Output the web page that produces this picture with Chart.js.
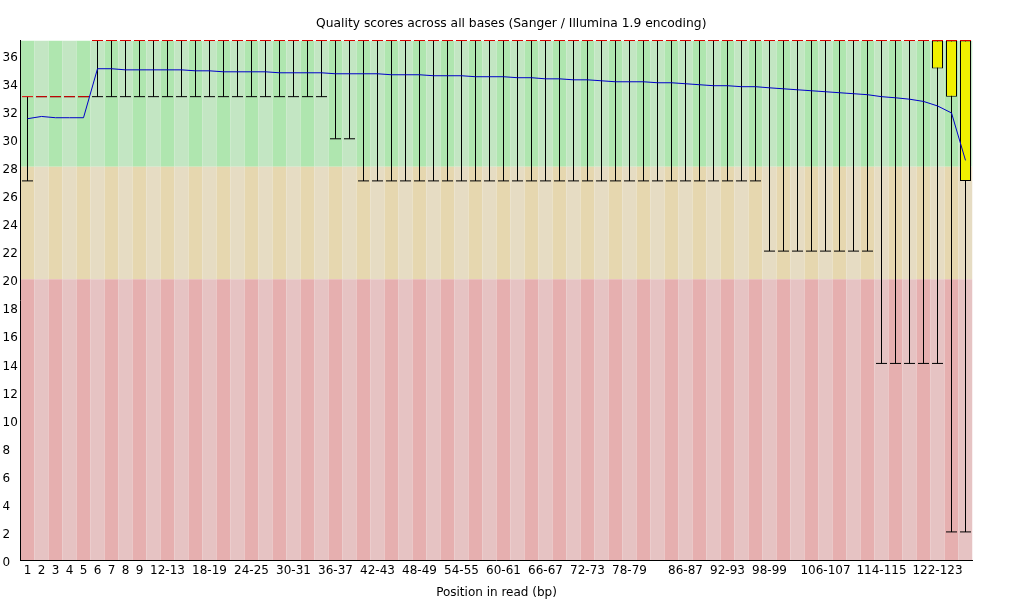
<!DOCTYPE html>
<html>
<head>
<meta charset="utf-8">
<style>
html,body{margin:0;padding:0;background:#fff;}
#wrap{width:1020px;height:600px;}
</style>
<script src="https://cdn.jsdelivr.net/npm/chart.js@4.4.1/dist/chart.umd.min.js"></script>
</head>
<body>
<div id="wrap"><canvas id="c" width="1020" height="600"></canvas></div>
<script>
// ---- data ----
const categories = ["1","2","3","4","5","6","7","8","9",
  "10-11","12-13","14-15","16-17","18-19","20-21","22-23","24-25","26-27","28-29",
  "30-31","32-33","34-35","36-37","38-39","40-41","42-43","44-45","46-47","48-49",
  "50-51","52-53","54-55","56-57","58-59","60-61","62-63","64-65","66-67","68-69",
  "70-71","72-73","74-75","76-77","78-79","80-81","82-83","84-85","86-87","88-89",
  "90-91","92-93","94-95","96-97","98-99","100-101","102-103","104-105","106-107","108-109",
  "110-111","112-113","114-115","116-117","118-119","120-121","122-123","124-125","126-127"];

const shownTickLabels = ["1","2","3","4","5","6","7","8","9","12-13","18-19","24-25","30-31",
  "36-37","42-43","48-49","54-55","60-61","66-67","72-73","78-79","86-87","92-93","98-99",
  "106-107","114-115","122-123"];

// one value per category (68)
const meanQ = [31.43,31.59,31.50,31.50,31.50,
  34.99,34.99,34.91,34.91,34.91,34.91,34.91,34.84,34.84,
  34.77,34.77,34.77,34.77,34.70,34.70,34.70,34.70,
  34.63,34.63,34.63,34.63,34.56,34.56,34.56,34.49,34.49,34.49,
  34.42,34.42,34.42,34.35,34.35,34.27,34.27,34.20,34.20,34.13,
  34.06,34.06,34.06,33.99,33.99,
  33.92,33.85,33.78,33.78,33.71,33.71,
  33.63,33.56,33.49,33.42,33.35,33.28,33.21,33.14,
  33.00,32.92,32.82,32.66,32.34,31.84,28.46];

const medianQ = [33,33,33,33,33,
  37,37,37,37,37,37,37,37,37,37,
  37,37,37,37,37,37,37,37,37,37,
  37,37,37,37,37,37,37,37,37,37,
  37,37,37,37,37,37,37,37,37,37,
  37,37,37,37,37,37,37,37,37,37,
  37,37,37,37,37,37,37,37,37,37,
  37,37,37];

const lowerQuartile = [33,33,33,33,33,
  37,37,37,37,37,37,37,37,37,37,
  37,37,37,37,37,37,37,37,37,37,
  37,37,37,37,37,37,37,37,37,37,
  37,37,37,37,37,37,37,37,37,37,
  37,37,37,37,37,37,37,37,37,37,
  37,37,37,37,37,37,37,37,37,37,
  35,33,27];

const upperQuartile = [33,33,33,33,33,
  37,37,37,37,37,37,37,37,37,37,
  37,37,37,37,37,37,37,37,37,37,
  37,37,37,37,37,37,37,37,37,37,
  37,37,37,37,37,37,37,37,37,37,
  37,37,37,37,37,37,37,37,37,37,
  37,37,37,37,37,37,37,37,37,37,
  37,37,37];

const lower10 = [27,33,33,33,33,
  33,33,33,33,33,33,33,33,33,33,33,33,33,33,33,33,33,
  30,30,
  27,27,27,27,27,27,27,27,27,27,
  27,27,27,27,27,27,27,27,27,27,
  27,27,27,27,27,27,27,27,27,
  22,22,22,22,22,22,22,22,
  14,14,14,14,14,
  2,2];

const upper90 = [33,33,33,33,33,
  37,37,37,37,37,37,37,37,37,37,
  37,37,37,37,37,37,37,37,37,37,
  37,37,37,37,37,37,37,37,37,37,
  37,37,37,37,37,37,37,37,37,37,
  37,37,37,37,37,37,37,37,37,37,
  37,37,37,37,37,37,37,37,37,37,
  37,37,37];

const zoneBounds = [0, 20, 28, 37];
const yTickStep = 2;

// ---- styles ----
const FONT = "'DejaVu Sans', sans-serif";
const zoneColors = [
  ["rgb(230,175,175)", "rgb(230,195,195)"],
  ["rgb(230,215,175)", "rgb(230,220,195)"],
  ["rgb(175,230,175)", "rgb(195,230,195)"]
];

const zoneDatasets = zoneColors.map((pair, z) => ({
  type: 'bar',
  label: 'zone' + z,
  data: categories.map(() => [zoneBounds[z], zoneBounds[z + 1]]),
  backgroundColor: categories.map((_, i) => pair[i % 2]),
  borderWidth: 0,
  barPercentage: 1,
  categoryPercentage: 1,
  grouped: false,
  inflateAmount: 0,
  order: 20 + z
}));

const datasets = [
  {
    type: 'line', label: 'Mean', data: meanQ,
    borderColor: 'rgb(0,0,200)', borderWidth: 1, pointRadius: 0, tension: 0, fill: false,
    order: 1
  },
  {
    type: 'line', label: 'Median', data: medianQ, showLine: false,
    pointStyle: 'line', pointRadius: 5.5, pointBorderWidth: 1,
    pointBorderColor: 'rgb(220,0,0)', pointBackgroundColor: 'rgb(220,0,0)',
    clip: 4, order: 2
  },
  {
    type: 'bar', label: 'IQR', data: categories.map((_, i) => [lowerQuartile[i], upperQuartile[i]]),
    backgroundColor: 'rgb(240,240,0)', borderColor: '#000', borderWidth: 1, borderSkipped: false,
    barThickness: 11, grouped: false, inflateAmount: 0, order: 3
  },
  {
    type: 'line', label: 'Lower cap', data: lower10, showLine: false,
    pointStyle: 'line', pointRadius: 5.5, pointBorderWidth: 1,
    pointBorderColor: '#000', pointBackgroundColor: '#000', order: 4
  },
  {
    type: 'bar', label: 'Whisker', data: categories.map((_, i) => [lower10[i], upper90[i]]),
    backgroundColor: '#000', borderWidth: 0, barThickness: 1, grouped: false, inflateAmount: 0,
    order: 5
  },
  ...zoneDatasets
];

Chart.defaults.font.family = FONT;
Chart.defaults.font.size = 12;
Chart.defaults.color = '#000';

new Chart(document.getElementById('c'), {
  type: 'bar',
  data: { labels: categories, datasets },
  options: {
    responsive: false,
    animation: false,
    events: [],
    layout: { padding: { left: 2.5, right: 0, top: 0, bottom: 0 } },
    plugins: {
      legend: { display: false },
      tooltip: { enabled: false },
      title: {
        display: true,
        text: 'Quality scores across all bases (Sanger / Illumina 1.9 encoding)',
        color: '#000',
        font: { family: FONT, size: 12.3, weight: 'normal', lineHeight: 1.2 },
        padding: { top: 16.3, bottom: 9.44 }
      }
    },
    scales: {
      x: {
        type: 'category',
        offset: true,
        grid: { display: false, drawTicks: false },
        border: { display: true, color: '#000', width: 1, z: 1 },
        ticks: {
          autoSkip: false, maxRotation: 0, minRotation: 0, padding: 3.6,
          color: '#000', font: { family: FONT, size: 12 },
          callback: function (val) {
            const lab = this.getLabelForValue(val);
            return shownTickLabels.includes(lab) ? lab : '';
          }
        },
        title: {
          display: true, text: 'Position in read (bp)', color: '#000',
          font: { family: FONT, size: 12 }, padding: { top: 0, bottom: 0 }
        },
        afterFit: s => { s.height = 40; }
      },
      y: {
        type: 'linear', position: 'left',
        min: zoneBounds[0], max: zoneBounds[zoneBounds.length - 1],
        grid: { display: false, drawTicks: false },
        border: { display: true, color: '#000', width: 1, z: 1 },
        ticks: {
          stepSize: yTickStep, includeBounds: false, crossAlign: 'far', labelOffset: 3,
          color: '#000', font: { family: FONT, size: 12 }
        },
        afterFit: s => { s.width = 18; }
      },
      y2: {
        type: 'linear', position: 'right', display: true,
        grid: { display: false, drawTicks: false },
        border: { display: false },
        ticks: { display: false },
        afterFit: s => { s.width = 47.5; }
      }
    }
  }
});
</script>
</body>
</html>
